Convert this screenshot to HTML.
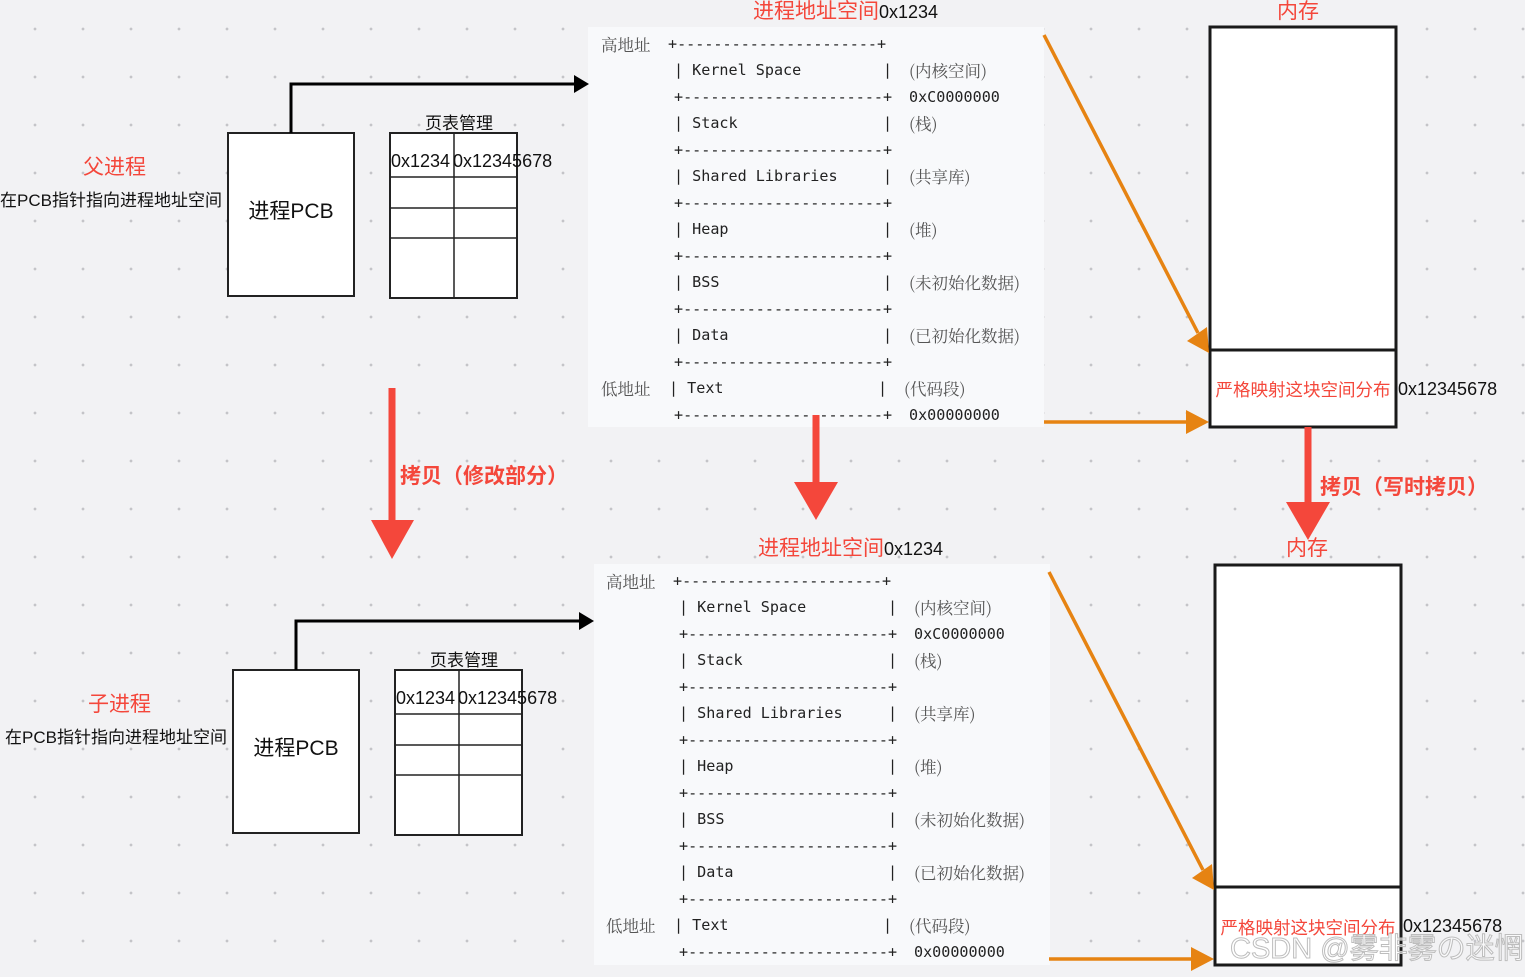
<!DOCTYPE html>
<html><head><meta charset="utf-8"><style>
html,body{margin:0;padding:0;width:1525px;height:977px;overflow:hidden}
body{position:relative;background-color:#f2f2f4;
background-image:radial-gradient(circle,#c4c4c8 1.2px,transparent 1.6px);background-size:48px 48px;background-position:11px 5px;
font-family:"Liberation Sans","Noto Sans CJK SC",sans-serif;}
.a{position:absolute;white-space:pre;line-height:20px}
.blk{position:absolute;left:0;top:0;width:1525px;height:440px;overflow:visible}
.panel{position:absolute;background:#f8f9fb}
.m{font-family:"DejaVu Sans Mono","Liberation Mono",monospace;font-size:15.1px;color:#222}
.c{font-family:"Noto Serif CJK SC","Liberation Serif",serif;font-size:16.5px;color:#555}
.red{color:#f4473b}
.box{position:absolute;background:#fff;border:2px solid #222;box-sizing:border-box}
.t{font-family:"Noto Sans CJK SC","Liberation Sans",sans-serif}
</style></head><body>

<!-- TOP BLOCK -->
<div class="blk">
<div class="panel" style="left:588px;top:27px;width:456px;height:400px"></div>
<div class="a red" style="left:753px;top:-1px;font-size:21px;line-height:26px">进程地址空间<span style="color:#111;font-size:18px">0x1234</span></div>
<div class="a red" style="left:1277px;top:-1px;font-size:21px;line-height:26px">内存</div>
<div class="a red" style="left:83px;top:155px;font-size:21px;line-height:26px">父进程</div>
<div class="a" style="left:0px;top:191px;font-size:17px;color:#111">在PCB指针指向进程地址空间</div>
<div class="box" style="left:227px;top:132px;width:128px;height:165px"></div>
<div class="a" style="left:227px;top:202px;width:128px;text-align:center;font-size:21px;color:#111">进程PCB</div>
<div class="a" style="left:425px;top:114px;font-size:17px;color:#111">页表管理</div>
<svg width="1525" height="440" style="position:absolute;left:0;top:0">
<rect x="390" y="133" width="127" height="165" fill="#fff" stroke="#222" stroke-width="2"/>
<path d="M454 133V298M390 177H517M390 208H517M390 238H517" stroke="#222" stroke-width="1.5"/>
<path d="M291 133V84H576" fill="none" stroke="#000" stroke-width="3"/>
<polygon points="574,75 589,84 574,93" fill="#000"/>
<rect x="1210" y="27" width="186" height="400" fill="#fff" stroke="#1a1a1a" stroke-width="3"/>
<path d="M1210 350H1396" stroke="#1a1a1a" stroke-width="3"/>
<path d="M1044 35L1198 333" stroke="#e68312" stroke-width="3.5"/>
<polygon points="1187,341 1209,353 1207,327" fill="#e68312"/>
<path d="M1044 422H1194" stroke="#e68312" stroke-width="3.5"/>
<polygon points="1186,410 1209,422 1186,434" fill="#e68312"/>
</svg>
<div class="a" style="left:391px;top:151px;font-size:18px;color:#111">0x1234</div>
<div class="a" style="left:453px;top:151px;font-size:18px;color:#111">0x12345678</div>
<div class="a red" style="left:1210px;top:380px;width:186px;text-align:center;font-size:17.5px">严格映射这块空间分布</div>
<div class="a" style="left:1398px;top:379px;font-size:18px;color:#111">0x12345678</div>

<div class="a c" style="left:601px;top:34px">高地址</div>
<div class="a m" style="left:668px;top:34px">+----------------------+</div>
<div class="a m" style="left:674px;top:60px">| Kernel Space         |</div>
<div class="a c" style="left:909px;top:60px">(内核空间)</div>
<div class="a m" style="left:674px;top:87px">+----------------------+</div>
<div class="a m" style="left:909px;top:87px">0xC0000000</div>
<div class="a m" style="left:674px;top:113px">| Stack                |</div>
<div class="a c" style="left:909px;top:113px">(栈)</div>
<div class="a m" style="left:674px;top:140px">+----------------------+</div>
<div class="a m" style="left:674px;top:166px">| Shared Libraries     |</div>
<div class="a c" style="left:909px;top:166px">(共享库)</div>
<div class="a m" style="left:674px;top:193px">+----------------------+</div>
<div class="a m" style="left:674px;top:219px">| Heap                 |</div>
<div class="a c" style="left:909px;top:219px">(堆)</div>
<div class="a m" style="left:674px;top:246px">+----------------------+</div>
<div class="a m" style="left:674px;top:272px">| BSS                  |</div>
<div class="a c" style="left:909px;top:272px">(未初始化数据)</div>
<div class="a m" style="left:674px;top:299px">+----------------------+</div>
<div class="a m" style="left:674px;top:325px">| Data                 |</div>
<div class="a c" style="left:909px;top:325px">(已初始化数据)</div>
<div class="a m" style="left:674px;top:352px">+----------------------+</div>
<div class="a c" style="left:601px;top:378px">低地址</div>
<div class="a m" style="left:669px;top:378px">| Text                 |</div>
<div class="a c" style="left:904px;top:378px">(代码段)</div>
<div class="a m" style="left:674px;top:405px">+----------------------+</div>
<div class="a m" style="left:909px;top:405px">0x00000000</div>
</div>

<!-- BOTTOM BLOCK -->
<div class="blk" style="left:5px;top:537px">
<div class="panel" style="left:589px;top:27px;width:456px;height:401px"></div>
<div class="a red" style="left:753px;top:-1px;font-size:21px;line-height:26px">进程地址空间<span style="color:#111;font-size:18px">0x1234</span></div>
<div class="a red" style="left:1281px;top:-1px;font-size:21px;line-height:26px">内存</div>
<div class="a red" style="left:83px;top:155px;font-size:21px;line-height:26px">子进程</div>
<div class="a" style="left:0px;top:191px;font-size:17px;color:#111">在PCB指针指向进程地址空间</div>
<div class="box" style="left:227px;top:132px;width:128px;height:165px"></div>
<div class="a" style="left:227px;top:202px;width:128px;text-align:center;font-size:21px;color:#111">进程PCB</div>
<div class="a" style="left:425px;top:114px;font-size:17px;color:#111">页表管理</div>
<svg width="1525" height="440" style="position:absolute;left:0;top:0">
<rect x="390" y="133" width="127" height="165" fill="#fff" stroke="#222" stroke-width="2"/>
<path d="M454 133V298M390 177H517M390 208H517M390 238H517" stroke="#222" stroke-width="1.5"/>
<path d="M291 133V84H576" fill="none" stroke="#000" stroke-width="3"/>
<polygon points="574,75 589,84 574,93" fill="#000"/>
<rect x="1210" y="28" width="186" height="400" fill="#fff" stroke="#1a1a1a" stroke-width="3"/>
<path d="M1210 350H1396" stroke="#1a1a1a" stroke-width="3"/>
<path d="M1044 35L1198 333" stroke="#e68312" stroke-width="3.5"/>
<polygon points="1187,341 1209,353 1207,327" fill="#e68312"/>
<path d="M1044 422H1194" stroke="#e68312" stroke-width="3.5"/>
<polygon points="1186,410 1209,422 1186,434" fill="#e68312"/>
</svg>
<div class="a" style="left:391px;top:151px;font-size:18px;color:#111">0x1234</div>
<div class="a" style="left:453px;top:151px;font-size:18px;color:#111">0x12345678</div>
<div class="a red" style="left:1210px;top:381px;width:186px;text-align:center;font-size:17.5px">严格映射这块空间分布</div>
<div class="a" style="left:1398px;top:379px;font-size:18px;color:#111">0x12345678</div>

<div class="a c" style="left:601px;top:34px">高地址</div>
<div class="a m" style="left:668px;top:34px">+----------------------+</div>
<div class="a m" style="left:674px;top:60px">| Kernel Space         |</div>
<div class="a c" style="left:909px;top:60px">(内核空间)</div>
<div class="a m" style="left:674px;top:87px">+----------------------+</div>
<div class="a m" style="left:909px;top:87px">0xC0000000</div>
<div class="a m" style="left:674px;top:113px">| Stack                |</div>
<div class="a c" style="left:909px;top:113px">(栈)</div>
<div class="a m" style="left:674px;top:140px">+----------------------+</div>
<div class="a m" style="left:674px;top:166px">| Shared Libraries     |</div>
<div class="a c" style="left:909px;top:166px">(共享库)</div>
<div class="a m" style="left:674px;top:193px">+----------------------+</div>
<div class="a m" style="left:674px;top:219px">| Heap                 |</div>
<div class="a c" style="left:909px;top:219px">(堆)</div>
<div class="a m" style="left:674px;top:246px">+----------------------+</div>
<div class="a m" style="left:674px;top:272px">| BSS                  |</div>
<div class="a c" style="left:909px;top:272px">(未初始化数据)</div>
<div class="a m" style="left:674px;top:299px">+----------------------+</div>
<div class="a m" style="left:674px;top:325px">| Data                 |</div>
<div class="a c" style="left:909px;top:325px">(已初始化数据)</div>
<div class="a m" style="left:674px;top:352px">+----------------------+</div>
<div class="a c" style="left:601px;top:378px">低地址</div>
<div class="a m" style="left:669px;top:378px">| Text                 |</div>
<div class="a c" style="left:904px;top:378px">(代码段)</div>
<div class="a m" style="left:674px;top:405px">+----------------------+</div>
<div class="a m" style="left:909px;top:405px">0x00000000</div>
</div>

<!-- red copy arrows -->
<svg width="1525" height="977" style="position:absolute;left:0;top:0">
<path d="M392 388V522" stroke="#f4473b" stroke-width="7"/>
<polygon points="371,520 414,520 392,559" fill="#f4473b"/>
<path d="M816 415V484" stroke="#f4473b" stroke-width="7"/>
<polygon points="794,482 838,482 816,520" fill="#f4473b"/>
<path d="M1308 427V502" stroke="#f4473b" stroke-width="7"/>
<polygon points="1286,502 1330,502 1308,540" fill="#f4473b"/>
</svg>
<div class="a red" style="left:400px;top:464px;font-size:21px;line-height:26px;font-weight:bold">拷贝（修改部分）</div>
<div class="a red" style="left:1320px;top:475px;font-size:21px;line-height:26px;font-weight:bold">拷贝（写时拷贝）</div>

<div class="a" style="left:1230px;top:932px;font-size:29px;line-height:34px;color:rgba(255,255,255,0.6);-webkit-text-stroke:1px #bdbdbd">CSDN @雾非雾の迷惘</div>
</body></html>
